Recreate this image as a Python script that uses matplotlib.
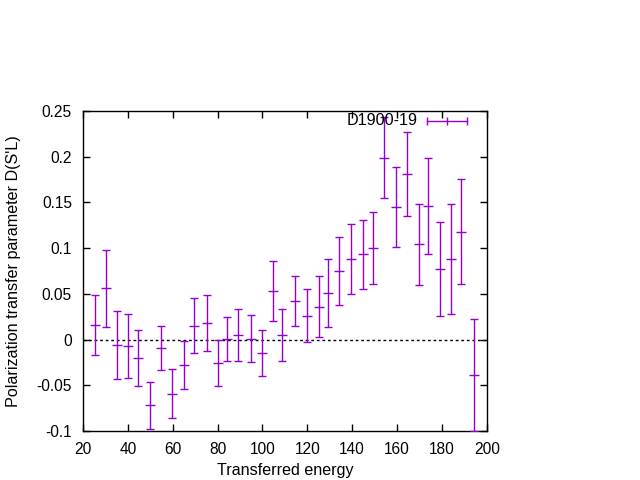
import matplotlib
matplotlib.use('Agg')
import matplotlib.pyplot as plt
from matplotlib.ticker import FuncFormatter

plt.rcParams['font.family'] = ['Liberation Sans', 'DejaVu Sans']

# transferred energy, D(S'L) and its error
energy = [25.5, 30.4, 35, 40.2, 44.6, 50, 54.9, 59.8, 65, 69.6, 75.4, 80.3, 84.3, 89.2,
          95, 99.9, 104.8, 108.8, 114.6, 119.9, 125.3, 129.3, 134.2, 139.6, 144.9, 149.4,
          154.3, 159.6, 164.5, 169.9, 173.9, 179.2, 184.1, 188.6, 194.4]
dsl = [0.016, 0.056, -0.006, -0.007, -0.020, -0.072, -0.009, -0.059, -0.028, 0.015,
       0.018, -0.026, 0.001, 0.005, 0.001, -0.015, 0.053, 0.005, 0.042, 0.026, 0.036,
       0.051, 0.075, 0.088, 0.093, 0.100, 0.199, 0.145, 0.181, 0.104, 0.146, 0.077,
       0.088, 0.118, -0.039]
err = [0.033, 0.042, 0.037, 0.035, 0.031, 0.026, 0.024, 0.027, 0.026, 0.030,
       0.031, 0.025, 0.024, 0.028, 0.026, 0.025, 0.033, 0.028, 0.027, 0.029, 0.033,
       0.037, 0.037, 0.038, 0.038, 0.039, 0.044, 0.044, 0.046, 0.044, 0.053, 0.051,
       0.060, 0.057, 0.061]

col = '#9400d3'

fig = plt.figure(figsize=(6.4, 4.8), dpi=100)
ax = fig.add_axes([0.1297, 0.102, 0.631, 0.667])

ax.axhline(0, color='black', lw=1, ls=(0, (2, 2)), zorder=1)
ax.errorbar(energy, dsl, yerr=err, fmt='none', ecolor=col, elinewidth=1,
            capsize=3, capthick=1, zorder=3)
# center tick for each point
ax.plot(energy, dsl, ls='none', marker='_', ms=7, mew=1, color=col, zorder=3)

ax.set_xlim(20, 200)
ax.set_ylim(-0.1, 0.25)
ax.set_xticks(range(20, 201, 20))
ax.set_yticks([-0.1, -0.05, 0, 0.05, 0.1, 0.15, 0.2, 0.25])
ax.yaxis.set_major_formatter(FuncFormatter(lambda v, p: ('%g' % round(v, 3))))
ax.tick_params(direction='in', top=True, right=True, length=5, width=1,
               labelsize=11.2)
ax.tick_params(axis='y', pad=8)
ax.tick_params(axis='x', pad=8)
for s in ax.spines.values():
    s.set_linewidth(1)

ax.set_xlabel('Transferred energy', fontsize=11.6, labelpad=4)
ax.set_ylabel("Polarization transfer parameter D(S'L)", fontsize=11.6, labelpad=11)

# gnuplot style key
ax.text(0.829, 0.969, 'D1900-19', transform=ax.transAxes, ha='right', va='center',
        fontsize=11.6)
ax.plot([0.851, 0.950], [0.969, 0.969], transform=ax.transAxes, color=col, lw=1,
        marker='|', ms=6, mew=1, clip_on=False)
ax.plot([0.901], [0.969], transform=ax.transAxes, color=col, marker='|', ms=6, mew=1,
        clip_on=False)

fig.savefig('out.png', dpi=100)
